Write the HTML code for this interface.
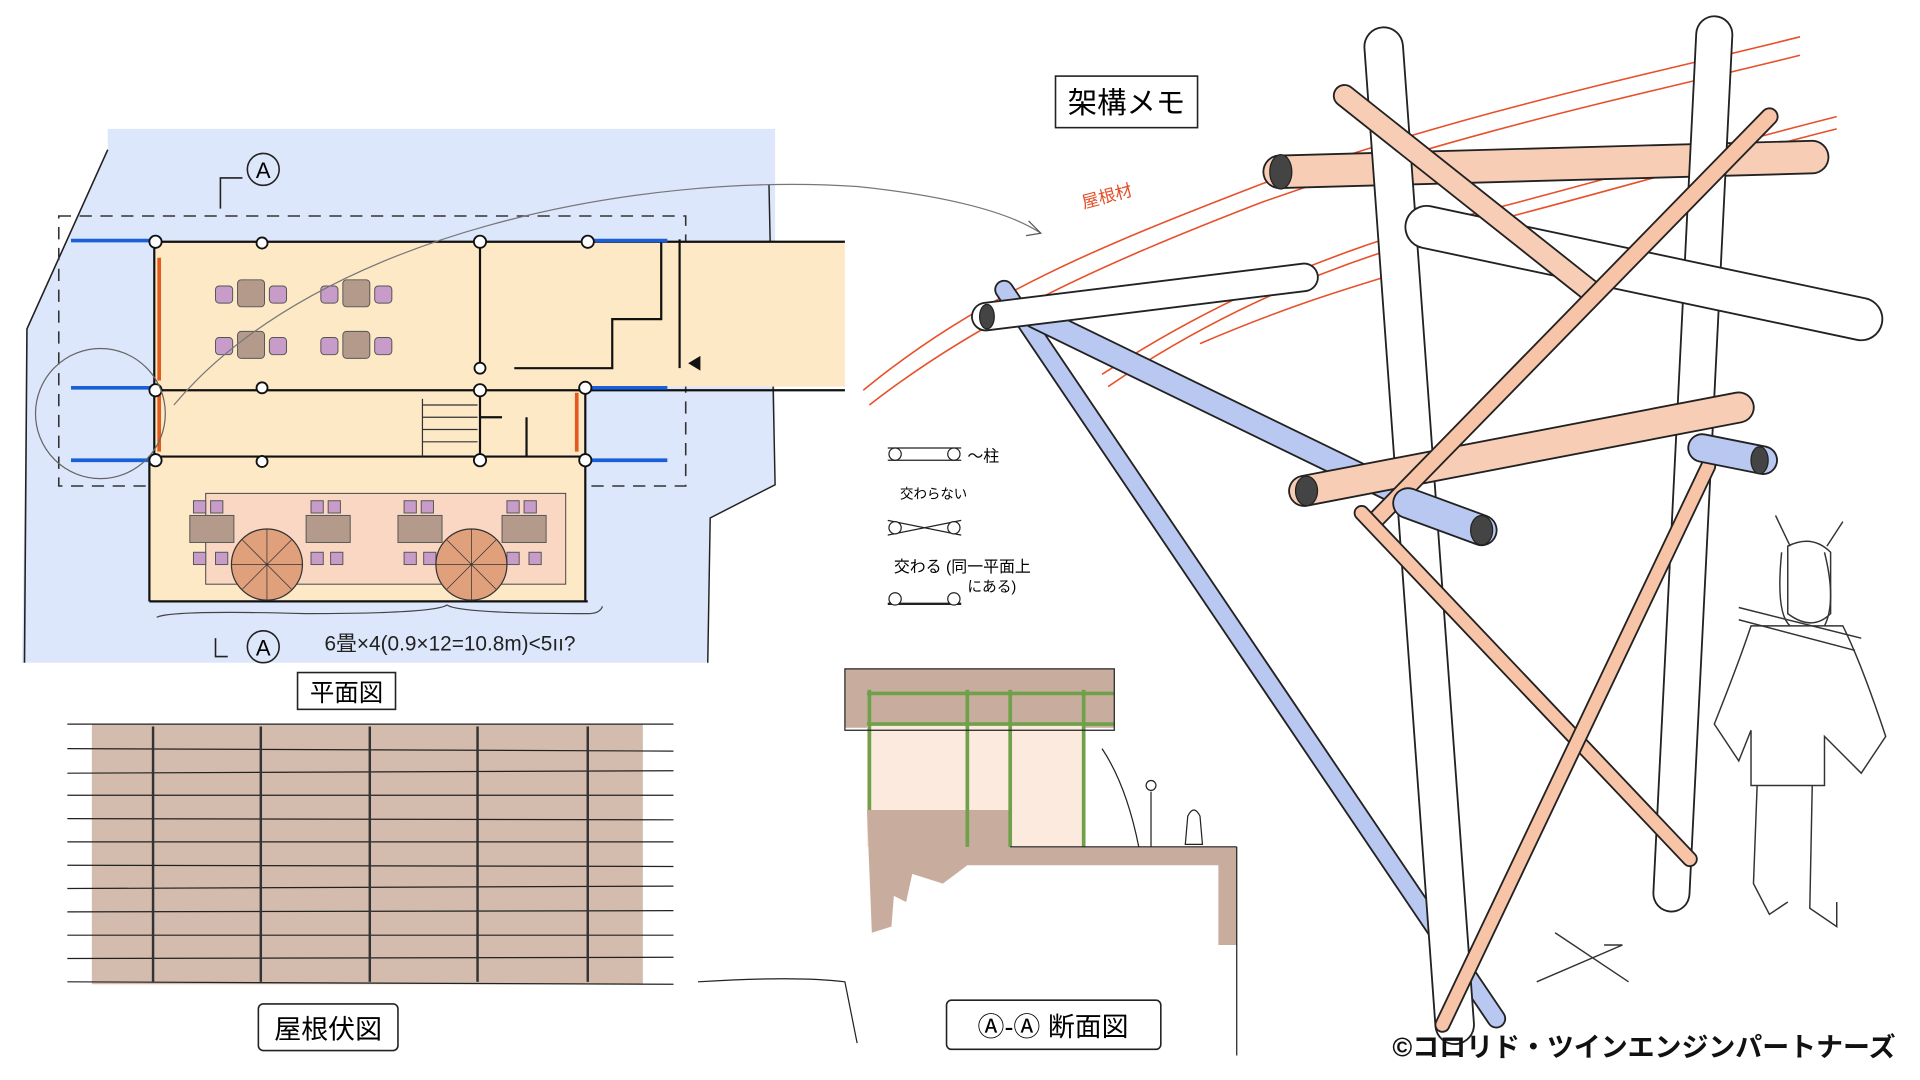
<!DOCTYPE html>
<html><head><meta charset="utf-8"><style>
html,body{margin:0;padding:0;background:#fff;width:1920px;height:1080px;overflow:hidden}
svg{display:block}
text{font-family:"Liberation Sans","Noto Sans CJK JP",sans-serif}
</style></head><body>
<svg width="1920" height="1080" viewBox="0 0 1568 880" preserveAspectRatio="none" xmlns="http://www.w3.org/2000/svg">
<!-- plan view -->
<polygon points="88,105 633,105 633,395 580,422 578,540 18,540 22,268 88,122" fill="#dde7fb" stroke="none"/>
<polyline points="88,122 22,268 20,540" fill="none" stroke="#222" stroke-width="1.3"/>
<polyline points="628,150 633,395 580,422 578,540" fill="none" stroke="#222" stroke-width="1.2"/>
<rect x="48" y="176" width="512" height="220" fill="none" stroke="#333" stroke-width="1.3" stroke-dasharray="10,7"/>
<rect x="126" y="197" width="352" height="173" fill="#fde9c6"/>
<rect x="122" y="370" width="356" height="120" fill="#fde9c6"/>
<rect x="478" y="197" width="212" height="118" fill="#fde9c6"/>
<rect x="168" y="402" width="294" height="74" fill="#f9d7c2" stroke="#444" stroke-width="0.8"/>
<g stroke="#111" stroke-width="1.8" fill="none">
<line x1="126" y1="197" x2="690" y2="197"/><line x1="126" y1="318" x2="690" y2="318"/><line x1="126" y1="372" x2="478" y2="372"/>
<line x1="126" y1="197" x2="126" y2="372"/><line x1="122" y1="372" x2="122" y2="490"/><line x1="122" y1="490" x2="480" y2="490"/><line x1="478" y1="372" x2="478" y2="490"/>
<line x1="392" y1="197" x2="392" y2="300"/><line x1="392" y1="318" x2="392" y2="372"/><line x1="478" y1="318" x2="478" y2="372"/>
<polyline points="420,300 500,300 500,260 540,260 540,197"/><polyline points="555,195 555,300"/>
<line x1="392" y1="340" x2="410" y2="340"/><line x1="430" y1="340" x2="430" y2="372"/>
</g>
<g stroke="#333" stroke-width="1"><line x1="345" y1="325" x2="345" y2="372"/>
<line x1="345" y1="330" x2="390" y2="330"/><line x1="345" y1="340" x2="390" y2="340"/><line x1="345" y1="350" x2="390" y2="350"/><line x1="345" y1="360" x2="390" y2="360"/></g>
<polygon points="572,290 562,296 572,302" fill="#111"/>
<g stroke="#1a5fd6" stroke-width="3"><line x1="58" y1="196" x2="124" y2="196"/><line x1="58" y1="316" x2="124" y2="316"/><line x1="58" y1="375" x2="124" y2="375"/>
<line x1="482" y1="196" x2="545" y2="196"/><line x1="482" y1="316" x2="545" y2="316"/><line x1="482" y1="375" x2="545" y2="375"/></g>
<g stroke="#e25a1c" stroke-width="3"><line x1="130" y1="210" x2="130" y2="310"/><line x1="130" y1="322" x2="130" y2="368"/><line x1="471" y1="320" x2="471" y2="368"/></g>
<g fill="#fff" stroke="#111" stroke-width="1.5">
<circle cx="127" cy="197" r="5"/><circle cx="214" cy="198" r="4.5"/><circle cx="392" cy="197" r="5"/><circle cx="480" cy="197" r="5"/>
<circle cx="392" cy="300" r="4.5"/><circle cx="127" cy="318" r="5"/><circle cx="214" cy="316" r="4.5"/><circle cx="392" cy="318" r="5"/><circle cx="478" cy="316" r="5"/>
<circle cx="127" cy="375" r="5"/><circle cx="214" cy="376" r="4.5"/><circle cx="392" cy="375" r="5"/><circle cx="478" cy="375" r="5"/></g>
<g fill="#b39a8a" stroke="#555" stroke-width="0.8">
<rect x="194" y="228" width="22" height="22" rx="3"/><rect x="280" y="228" width="22" height="22" rx="3"/><rect x="194" y="270" width="22" height="22" rx="3"/><rect x="280" y="270" width="22" height="22" rx="3"/>
<rect x="155" y="420" width="36" height="22"/><rect x="250" y="420" width="36" height="22"/><rect x="325" y="420" width="36" height="22"/><rect x="410" y="420" width="36" height="22"/></g>
<g fill="#c89cc8" stroke="#555" stroke-width="0.8">
<rect x="176" y="233" width="14" height="14" rx="3"/><rect x="220" y="233" width="14" height="14" rx="3"/><rect x="262" y="233" width="14" height="14" rx="3"/><rect x="306" y="233" width="14" height="14" rx="3"/>
<rect x="176" y="275" width="14" height="14" rx="3"/><rect x="220" y="275" width="14" height="14" rx="3"/><rect x="262" y="275" width="14" height="14" rx="3"/><rect x="306" y="275" width="14" height="14" rx="3"/>
<rect x="158" y="408" width="10" height="10"/><rect x="172" y="408" width="10" height="10"/><rect x="254" y="408" width="10" height="10"/><rect x="268" y="408" width="10" height="10"/><rect x="330" y="408" width="10" height="10"/><rect x="344" y="408" width="10" height="10"/><rect x="414" y="408" width="10" height="10"/><rect x="428" y="408" width="10" height="10"/>
<rect x="158" y="450" width="10" height="10"/><rect x="176" y="450" width="10" height="10"/><rect x="254" y="450" width="10" height="10"/><rect x="270" y="450" width="10" height="10"/><rect x="330" y="450" width="10" height="10"/><rect x="346" y="450" width="10" height="10"/><rect x="414" y="450" width="10" height="10"/><rect x="432" y="450" width="10" height="10"/></g>
<g fill="#e0a07c" stroke="#333" stroke-width="1"><circle cx="218" cy="460" r="29"/><circle cx="385" cy="460" r="29"/></g>
<g stroke="#333" stroke-width="0.6"><path d="M189,460H247M218,431V489M198,440L238,480M238,440L198,480M356,460H414M385,431V489M365,440L405,480M405,440L365,480"/></g>
<circle cx="82" cy="337" r="53" fill="none" stroke="#666" stroke-width="1"/>
<path d="M142,330 C260,190 520,140 700,152 C760,158 820,170 850,190" fill="none" stroke="#777" stroke-width="1"/>
<path d="M840,180 L850,190 L838,192" fill="none" stroke="#555" stroke-width="1"/>
<path d="M180,170 V145 H198 M176,520 V535 H186" fill="none" stroke="#222" stroke-width="1.3"/>
<circle cx="215" cy="138" r="13" fill="none" stroke="#222" stroke-width="1.3"/><text x="215" y="145" font-size="18" text-anchor="middle">A</text>
<circle cx="215" cy="527" r="13" fill="none" stroke="#222" stroke-width="1.3"/><text x="215" y="534" font-size="18" text-anchor="middle">A</text>
<path d="M128,503 Q140,497 250,500 Q355,500 365,493 Q375,500 480,500 Q490,500 492,494" fill="none" stroke="#444" stroke-width="1"/>
<text x="265" y="530" font-size="17" fill="#222">6畳×4(0.9×12=10.8m)&lt;5ıı?</text>
<rect x="243" y="548" width="80" height="30" fill="none" stroke="#222" stroke-width="1.3"/><text x="283" y="571" font-size="20" text-anchor="middle">平面図</text>
<!-- roof plan -->
<rect x="75" y="590" width="450" height="212" fill="#d3bcae"/>
<g stroke="#222" stroke-width="1">
<line x1="55" y1="590" x2="550" y2="590"/><line x1="55" y1="610" x2="550" y2="612"/><line x1="55" y1="630" x2="550" y2="628"/><line x1="55" y1="648" x2="550" y2="648"/><line x1="55" y1="667" x2="550" y2="668"/><line x1="55" y1="686" x2="550" y2="686"/><line x1="55" y1="705" x2="550" y2="706"/><line x1="55" y1="724" x2="550" y2="722"/><line x1="55" y1="743" x2="550" y2="742"/><line x1="55" y1="762" x2="550" y2="762"/><line x1="55" y1="781" x2="550" y2="780"/><line x1="55" y1="800" x2="550" y2="802"/>
</g>
<g stroke="#333" stroke-width="2"><line x1="125" y1="592" x2="125" y2="800"/><line x1="213" y1="592" x2="213" y2="800"/><line x1="302" y1="592" x2="302" y2="800"/><line x1="390" y1="592" x2="390" y2="800"/><line x1="480" y1="592" x2="480" y2="800"/></g>
<rect x="211" y="818" width="114" height="38" rx="4" fill="none" stroke="#222" stroke-width="1.3"/><text x="268" y="846" font-size="22" text-anchor="middle">屋根伏図</text>
<!-- section -->
<rect x="690" y="545" width="220" height="48" fill="#c8ad9f"/>
<rect x="708" y="590" width="177" height="100" fill="#fdeadf"/>
<path d="M708,660 H825 V690 H1010 V770 H995 V705 H790 L770,720 L745,712 L740,735 L730,730 L728,755 L712,760 Z" fill="#c8ad9f"/>
<g stroke="#6fa04a" stroke-width="3" fill="none"><line x1="710" y1="562" x2="710" y2="660"/><line x1="790" y1="562" x2="790" y2="690"/><line x1="825" y1="562" x2="825" y2="690"/><line x1="885" y1="562" x2="885" y2="690"/><line x1="708" y1="565" x2="910" y2="565"/><line x1="708" y1="590" x2="910" y2="590"/></g>
<g stroke="#222" stroke-width="1" fill="none"><path d="M690,545 H910 V595 H690 Z M825,690 H1010 M1010,690 V860 M570,800 Q650,795 690,800 L700,850"/><path d="M900,610 Q920,640 930,690"/><line x1="940" y1="645" x2="940" y2="690"/><circle cx="940" cy="640" r="4"/><path d="M970,665 Q975,655 980,665 L982,688 H968 Z"/></g>
<rect x="773" y="815" width="175" height="40" rx="4" fill="none" stroke="#222" stroke-width="1.3"/>
<text x="860" y="844" font-size="22" text-anchor="middle">Ⓐ-Ⓐ 断面図</text>
<!-- legend -->
<g stroke="#222" stroke-width="1" fill="#fff"><line x1="725" y1="365" x2="785" y2="365"/><line x1="725" y1="375" x2="785" y2="375"/><circle cx="731" cy="370" r="5"/><circle cx="779" cy="370" r="5"/>
<line x1="725" y1="424" x2="785" y2="436"/><line x1="725" y1="436" x2="785" y2="424"/><circle cx="731" cy="430" r="5"/><circle cx="779" cy="430" r="5"/>
<line x1="725" y1="492" x2="785" y2="492" stroke-width="2"/><circle cx="731" cy="488" r="5"/><circle cx="779" cy="488" r="5"/></g>
<text x="790" y="376" font-size="13">〜柱</text>
<text x="735" y="406" font-size="11">交わらない</text>
<text x="730" y="466" font-size="13">交わる (同一平面上</text>
<text x="790" y="482" font-size="12">にある)</text>
<!-- memo label -->
<rect x="862" y="62" width="116" height="42" fill="none" stroke="#222" stroke-width="1.3"/><text x="920" y="92" font-size="24" text-anchor="middle">架構メモ</text>
<text x="885" y="170" font-size="14" fill="#e2502a" transform="rotate(-15 885 170)">屋根材</text>
<!-- roof red lines -->
<g stroke="#e8502a" stroke-width="1.3" fill="none">
<path d="M705,318 C800,240 900,200 1030,150 C1200,90 1350,60 1470,30"/><path d="M710,330 C800,260 900,215 1030,165 C1200,105 1350,75 1470,45"/>
<path d="M900,305 C1000,240 1100,200 1200,175 C1300,150 1400,120 1500,95"/><path d="M905,315 C1000,250 1100,210 1200,185 C1300,160 1400,130 1500,105"/>
<path d="M980,280 C1050,250 1100,235 1150,220"/></g>
<!-- bamboo -->
<g stroke-linecap="round">
<line x1="820" y1="236" x2="1222" y2="830" stroke="#222" stroke-width="16"/><line x1="820" y1="236" x2="1222" y2="830" stroke="#b9c8f0" stroke-width="13"/>
<line x1="845" y1="258" x2="1210" y2="435" stroke="#222" stroke-width="20"/><line x1="845" y1="258" x2="1210" y2="435" stroke="#b9c8f0" stroke-width="17"/>
<line x1="805" y1="258" x2="1065" y2="226" stroke="#222" stroke-width="24"/><line x1="805" y1="258" x2="1065" y2="226" stroke="#fff" stroke-width="21"/>
<line x1="1045" y1="140" x2="1480" y2="128" stroke="#222" stroke-width="28"/><line x1="1045" y1="140" x2="1480" y2="128" stroke="#f8cdb5" stroke-width="25"/>
<line x1="1130" y1="38" x2="1188" y2="835" stroke="#222" stroke-width="33"/><line x1="1130" y1="38" x2="1188" y2="835" stroke="#fff" stroke-width="30"/>
<line x1="1400" y1="28" x2="1365" y2="728" stroke="#222" stroke-width="31"/><line x1="1400" y1="28" x2="1365" y2="728" stroke="#fff" stroke-width="28"/>
<line x1="1165" y1="185" x2="1520" y2="260" stroke="#222" stroke-width="36"/><line x1="1165" y1="185" x2="1520" y2="260" stroke="#fff" stroke-width="33"/>
<line x1="1098" y1="78" x2="1300" y2="238" stroke="#222" stroke-width="19"/><line x1="1098" y1="78" x2="1300" y2="238" stroke="#f8cdb5" stroke-width="16"/>
<line x1="1065" y1="400" x2="1420" y2="332" stroke="#222" stroke-width="26"/><line x1="1065" y1="400" x2="1420" y2="332" stroke="#f8cdb5" stroke-width="23"/>
<line x1="1445" y1="95" x2="1122" y2="425" stroke="#222" stroke-width="15"/><line x1="1445" y1="95" x2="1122" y2="425" stroke="#f8c4a8" stroke-width="12"/>
<line x1="1112" y1="418" x2="1380" y2="700" stroke="#222" stroke-width="13"/><line x1="1112" y1="418" x2="1380" y2="700" stroke="#f8c4a8" stroke-width="10"/>
<line x1="1395" y1="380" x2="1178" y2="835" stroke="#222" stroke-width="13"/><line x1="1395" y1="380" x2="1178" y2="835" stroke="#f8c4a8" stroke-width="10"/>
<line x1="1150" y1="410" x2="1210" y2="432" stroke="#222" stroke-width="26"/><line x1="1150" y1="410" x2="1210" y2="432" stroke="#b9c8f0" stroke-width="23"/>
<line x1="1390" y1="365" x2="1440" y2="375" stroke="#222" stroke-width="24"/><line x1="1390" y1="365" x2="1440" y2="375" stroke="#b9c8f0" stroke-width="21"/>
</g>
<g fill="#444" stroke="#222"><ellipse cx="806" cy="258" rx="6" ry="10"/><ellipse cx="1046" cy="140" rx="9" ry="14"/><ellipse cx="1067" cy="400" rx="9" ry="12"/><ellipse cx="1210" cy="432" rx="9" ry="12"/><ellipse cx="1437" cy="375" rx="7" ry="11"/></g>
<!-- character -->
<g fill="none" stroke="#333" stroke-width="1.2">
<path d="M1450,420 L1462,445 M1505,425 L1492,445 M1455,450 Q1450,500 1462,510 M1490,450 Q1500,490 1490,510"/>
<path d="M1460,445 Q1480,435 1495,450 L1495,500 Q1480,515 1460,500 Z"/>
<path d="M1430,510 Q1420,540 1400,590 L1420,620 L1430,595 L1430,640 L1490,640 L1490,600 L1520,630 L1540,600 Q1520,540 1505,510 Z"/>
<path d="M1435,640 L1432,720 L1445,745 L1460,735 M1480,640 L1478,740 L1500,755 L1500,735"/>
<path d="M1420,495 L1520,520 M1420,505 L1515,530"/>
<path d="M1270,760 L1330,800 M1255,800 L1325,770 L1310,770"/></g>
<text x="1548" y="861" font-size="22" font-weight="bold" text-anchor="end" fill="#111">©コロリド・ツインエンジンパートナーズ</text>
</svg>
</body></html>
